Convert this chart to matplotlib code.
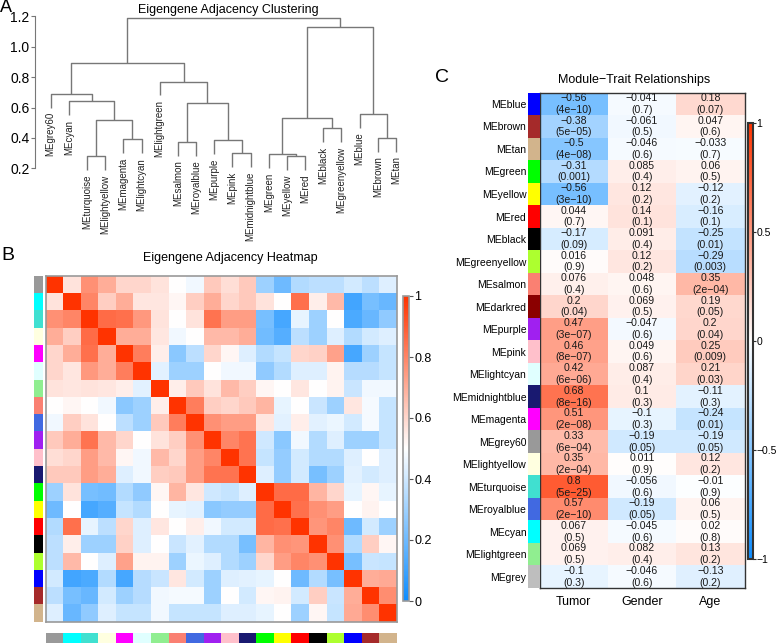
import matplotlib
matplotlib.use("Agg")
import matplotlib.pyplot as plt
import numpy as np
from matplotlib.colors import LinearSegmentedColormap

plt.rcParams["font.family"] = ["Liberation Sans", "DejaVu Sans"]

W, H = 778, 644

# ---- panel A: eigengene dendrogram ----
dendro_leaves = ["grey60", "cyan", "turquoise", "lightyellow", "magenta", "lightcyan",
                 "lightgreen", "salmon", "royalblue", "purple", "pink", "midnightblue",
                 "green", "yellow", "red", "black", "greenyellow", "blue", "brown", "tan"]
# (left child, right child, height); int children refer to earlier merges
dendro_merges = [
    ("turquoise", "lightyellow", 0.28),   # 0
    ("magenta", "lightcyan", 0.39),       # 1
    (0, 1, 0.52),                         # 2
    ("cyan", 2, 0.64),                    # 3
    ("grey60", 3, 0.69),                  # 4
    ("salmon", "royalblue", 0.375),       # 5
    ("pink", "midnightblue", 0.30),       # 6
    ("purple", 6, 0.386),                 # 7
    (5, 7, 0.63),                         # 8
    ("lightgreen", 8, 0.77),              # 9
    (4, 9, 0.89),                         # 10
    ("yellow", "red", 0.28),              # 11
    ("green", 11, 0.294),                 # 12
    ("black", "greenyellow", 0.465),      # 13
    (12, 13, 0.53),                       # 14
    ("brown", "tan", 0.40),               # 15
    ("blue", 15, 0.557),                  # 16
    (14, 16, 1.13),                       # 17
    (10, 17, 1.19),                       # 18
]

# ---- panel B: eigengene adjacency (upper triangle, rows in dendrogram order) ----
adjacency_upper = [
    [1.0, 0.57, 0.77, 0.70, 0.60, 0.60, 0.57, 0.50, 0.47, 0.63, 0.58, 0.63, 0.30, 0.20, 0.34, 0.36, 0.36, 0.41, 0.36, 0.43],
    [1.0, 0.80, 0.62, 0.70, 0.56, 0.56, 0.52, 0.62, 0.70, 0.60, 0.63, 0.57, 0.50, 0.85, 0.54, 0.67, 0.11, 0.22, 0.19],
    [1.0, 0.86, 0.85, 0.75, 0.57, 0.50, 0.57, 0.84, 0.74, 0.74, 0.22, 0.12, 0.45, 0.30, 0.50, 0.13, 0.19, 0.27],
    [1.0, 0.70, 0.70, 0.56, 0.47, 0.50, 0.67, 0.67, 0.70, 0.21, 0.15, 0.36, 0.30, 0.43, 0.34, 0.41, 0.43],
    [1.0, 0.82, 0.54, 0.26, 0.36, 0.60, 0.52, 0.43, 0.34, 0.38, 0.60, 0.61, 0.73, 0.12, 0.30, 0.38],
    [1.0, 0.44, 0.30, 0.30, 0.50, 0.47, 0.47, 0.27, 0.34, 0.43, 0.43, 0.53, 0.35, 0.35, 0.38],
    [1.0, 0.54, 0.63, 0.57, 0.67, 0.62, 0.52, 0.50, 0.56, 0.50, 0.53, 0.39, 0.47, 0.47],
    [1.0, 0.82, 0.62, 0.60, 0.63, 0.68, 0.45, 0.50, 0.39, 0.30, 0.56, 0.48, 0.38],
    [1.0, 0.77, 0.74, 0.74, 0.56, 0.44, 0.54, 0.44, 0.46, 0.41, 0.48, 0.38],
    [1.0, 0.80, 0.84, 0.40, 0.26, 0.47, 0.34, 0.43, 0.30, 0.30, 0.38],
    [1.0, 0.84, 0.38, 0.28, 0.41, 0.34, 0.34, 0.43, 0.50, 0.43],
    [1.0, 0.43, 0.28, 0.41, 0.22, 0.30, 0.44, 0.41, 0.43],
    [1.0, 0.86, 0.86, 0.68, 0.60, 0.45, 0.52, 0.45],
    [1.0, 0.85, 0.77, 0.74, 0.50, 0.53, 0.50],
    [1.0, 0.76, 0.80, 0.20, 0.41, 0.30],
    [1.0, 0.77, 0.34, 0.62, 0.52],
    [1.0, 0.22, 0.39, 0.38],
    [1.0, 0.70, 0.71],
    [1.0, 0.78],
    [1.0],
]

# ---- panel C: module-trait relationships ----
traits = ["Tumor", "Gender", "Age"]
trait_modules = ["blue", "brown", "tan", "green", "yellow", "red", "black", "greenyellow",
                 "salmon", "darkred", "purple", "pink", "lightcyan", "midnightblue",
                 "magenta", "grey60", "lightyellow", "turquoise", "royalblue", "cyan",
                 "lightgreen", "grey"]
cor_tumor = [-0.56, -0.38, -0.5, -0.31, -0.56, 0.044, -0.17, 0.016, 0.076, 0.2, 0.47,
             0.46, 0.42, 0.68, 0.51, 0.33, 0.35, 0.8, 0.57, 0.067, 0.069, -0.1]
cor_gender = [-0.041, -0.061, -0.046, 0.085, 0.12, 0.14, 0.091, 0.12, 0.048, 0.069, -0.047,
              0.049, 0.087, 0.1, -0.1, -0.19, 0.011, -0.056, -0.19, -0.045, 0.082, -0.046]
cor_age = [0.18, 0.047, -0.033, 0.06, -0.12, -0.16, -0.25, -0.29, 0.35, 0.19, 0.2,
           0.25, 0.21, -0.11, -0.24, -0.19, 0.12, -0.01, 0.06, 0.02, 0.13, -0.13]
p_tumor = ["4e-10", "5e-05", "4e-08", "0.001", "3e-10", "0.7", "0.09", "0.9", "0.4", "0.04",
           "3e-07", "8e-07", "6e-06", "8e-16", "2e-08", "6e-04", "2e-04", "5e-25", "2e-10",
           "0.5", "0.5", "0.3"]
p_gender = ["0.7", "0.5", "0.6", "0.4", "0.2", "0.1", "0.4", "0.2", "0.6", "0.5", "0.6",
            "0.6", "0.4", "0.3", "0.3", "0.05", "0.9", "0.6", "0.05", "0.6", "0.4", "0.6"]
p_age = ["0.07", "0.6", "0.7", "0.5", "0.2", "0.1", "0.01", "0.003", "2e-04", "0.05", "0.04",
         "0.009", "0.03", "0.3", "0.01", "0.05", "0.2", "0.9", "0.5", "0.8", "0.2", "0.2"]

# R colour names used by WGCNA modules
module_colors = {
    "grey60": "#999999", "cyan": "#00FFFF", "turquoise": "#40E0D0", "lightyellow": "#FFFFE0",
    "magenta": "#FF00FF", "lightcyan": "#E0FFFF", "lightgreen": "#90EE90", "salmon": "#FA8072",
    "royalblue": "#4169E1", "purple": "#A020F0", "pink": "#FFC0CB", "midnightblue": "#191970",
    "green": "#00FF00", "yellow": "#FFFF00", "red": "#FF0000", "black": "#000000",
    "greenyellow": "#ADFF2F", "blue": "#0000FF", "brown": "#A52A2A", "tan": "#D2B48C",
    "darkred": "#8B0000", "grey": "#BEBEBE",
}

blue_white_red = LinearSegmentedColormap.from_list(
    "blueWhiteRed", [(0.05, 0.55, 1.0), (1.0, 1.0, 1.0), (1.0, 0.2, 0.0)])


def px_axes(fig, x0, y0, x1, y1):
    return fig.add_axes([x0 / W, 1 - y1 / H, (x1 - x0) / W, (y1 - y0) / H])


def rminus(s):
    return s.replace("-", "\u2212")


def main():
    fig = plt.figure(figsize=(W / 100, H / 100), dpi=100)

    # ---------------- A ----------------
    ax = px_axes(fig, 35, 16.3, 400, 168.3)
    ax.set_xlim(0.136, 20.22)
    ax.set_ylim(0.2, 1.2)
    heights = [m[2] for m in dendro_merges]
    hang = 0.1 * (max(heights) - min(heights))
    leaf_x = {name: i + 1 for i, name in enumerate(dendro_leaves)}
    node_x, node_h = [], []
    for a, b, h in dendro_merges:
        pts = []
        for c in (a, b):
            if isinstance(c, str):
                x, y = leaf_x[c], h - hang
                ax.text(x, y - 0.03, "ME" + c, rotation=90, ha="center", va="top",
                        fontsize=7, color="#222222", clip_on=False)
            else:
                x, y = node_x[c], node_h[c]
            pts.append((x, y))
        (xa, ya), (xb, yb) = pts
        ax.plot([xa, xa, xb, xb], [ya, h, h, yb], color="#777777", lw=1.0,
                clip_on=False, solid_capstyle="butt")
        node_x.append((xa + xb) / 2)
        node_h.append(h)
    for side in ("top", "right", "bottom"):
        ax.spines[side].set_visible(False)
    ax.spines["left"].set_bounds(0.2, 1.2)
    ax.spines["left"].set_color("#777777")
    ax.set_xticks([])
    yt = np.arange(0.2, 1.21, 0.2)
    ax.set_yticks(yt, [f"{v:.1f}" for v in yt])
    ax.tick_params(axis="y", length=3, pad=1, labelsize=10, color="#777777")
    ax.patch.set_alpha(0)
    fig.text(228 / W, 1 - 10 / H, "Eigengene Adjacency Clustering", ha="center",
             va="center", fontsize=9)
    fig.text(6 / W, 1 - 7 / H, "A", ha="center", va="center", fontsize=13)

    # ---------------- B ----------------
    n = len(dendro_leaves)
    adj = np.zeros((n, n))
    for i, row in enumerate(adjacency_upper):
        adj[i, i:] = row
        adj[i:, i] = row
    hx0, hy0, hx1, hy1 = 45.7, 275.7, 396.7, 621.7
    ax = px_axes(fig, hx0, hy0, hx1, hy1)
    ax.pcolormesh(adj, cmap=blue_white_red, vmin=0, vmax=1)
    ax.set_xlim(0, n)
    ax.set_ylim(n, 0)
    ax.set_xticks([])
    ax.set_yticks([])
    for sp in ax.spines.values():
        sp.set_color("#999999")
        sp.set_linewidth(1.2)

    leaf_cols = [module_colors[m] for m in dendro_leaves]
    ax = px_axes(fig, 34.3, hy0, 43.3, hy1)
    ax.barh(np.arange(n), 1, height=1, color=leaf_cols, align="edge")
    ax.set_ylim(n, 0)
    ax.set_xlim(0, 1)
    ax.axis("off")

    ax = px_axes(fig, hx0, 633.3, hx1, 643.3)
    ax.bar(np.arange(n), 1, width=1, color=leaf_cols, align="edge")
    ax.set_xlim(0, n)
    ax.set_ylim(0, 1)
    ax.axis("off")

    cax = px_axes(fig, 402.5, 296, 409, 601)
    sm = plt.cm.ScalarMappable(cmap=blue_white_red, norm=plt.Normalize(0, 1))
    cb = fig.colorbar(sm, cax=cax)
    cb.set_ticks([0, 0.2, 0.4, 0.6, 0.8, 1], labels=["0", "0.2", "0.4", "0.6", "0.8", "1"])
    cb.outline.set_edgecolor("#999999")
    cb.outline.set_linewidth(1.2)
    cax.tick_params(length=3, pad=1, labelsize=9, color="#555555")

    fig.text(230 / W, 1 - 258 / H, "Eigengene Adjacency Heatmap", ha="center",
             va="center", fontsize=9)
    fig.text(8 / W, 1 - 255.5 / H, "B", ha="center", va="center", fontsize=14)

    # ---------------- C ----------------
    cor = np.column_stack([cor_tumor, cor_gender, cor_age])
    pvals = list(zip(p_tumor, p_gender, p_age))
    m = len(trait_modules)
    cx0, cy0, cx1, cy1 = 539.5, 92.7, 744.5, 588
    ax = px_axes(fig, cx0, cy0, cx1, cy1)
    ax.pcolormesh(cor, cmap=blue_white_red, vmin=-1, vmax=1)
    ax.set_xlim(0, 3)
    ax.set_ylim(m, 0)
    for i in range(m):
        for j in range(3):
            ax.text(j + 0.5, i + 0.5, rminus(f"{cor[i, j]:.2g}\n({pvals[i][j]})"),
                    ha="center", va="center", fontsize=7.6, color="#1a1a1a",
                    linespacing=1.22)
    ax.set_xticks(np.arange(3) + 0.5, traits)
    ax.set_yticks([])
    ax.tick_params(axis="x", length=0, pad=6, labelsize=9)
    for sp in ax.spines.values():
        sp.set_color("#333333")
        sp.set_linewidth(1.0)

    ax = px_axes(fig, 527.7, cy0, 539.5, cy1)
    ax.barh(np.arange(m), 1, height=1, color=[module_colors[k] for k in trait_modules],
            align="edge")
    ax.set_ylim(m, 0)
    ax.set_xlim(0, 1)
    ax.set_xticks([])
    ax.set_yticks(np.arange(m) + 0.5, ["ME" + k for k in trait_modules])
    ax.tick_params(axis="y", length=0, pad=1, labelsize=7.5)
    for sp in ax.spines.values():
        sp.set_visible(False)

    cax = px_axes(fig, 747.5, 122.7, 752.5, 559)
    sm = plt.cm.ScalarMappable(cmap=blue_white_red, norm=plt.Normalize(-1, 1))
    cb = fig.colorbar(sm, cax=cax)
    cb.set_ticks([-1, -0.5, 0, 0.5, 1],
                 labels=["\u22121", "\u22120.5", "0", "0.5", "1"])
    cb.outline.set_edgecolor("#333333")
    cb.outline.set_linewidth(1.5)
    cax.tick_params(length=2.5, pad=0.5, labelsize=7.5, color="#333333")

    fig.text(634 / W, 1 - 80 / H, "Module\u2212Trait Relationships", ha="center",
             va="center", fontsize=9)
    fig.text(442 / W, 1 - 78 / H, "C", ha="center", va="center", fontsize=14)

    fig.savefig("out.png", dpi=100)
    plt.close(fig)


if __name__ == "__main__":
    main()
